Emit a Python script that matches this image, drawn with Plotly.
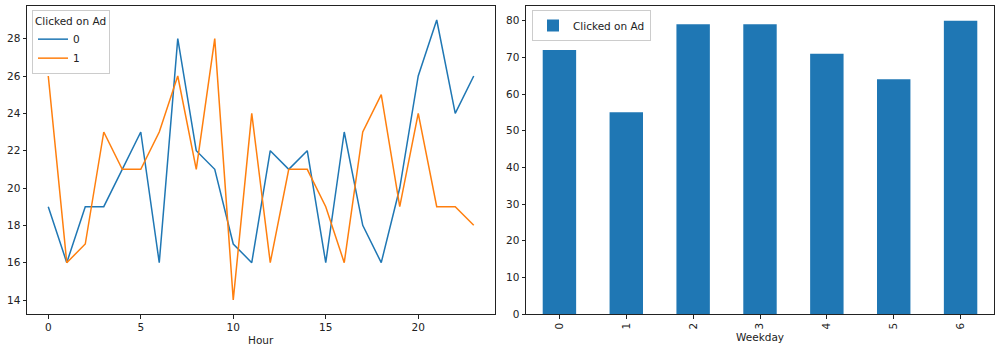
import plotly.graph_objects as go

hours = list(range(24))
clicked_0 = [19, 16, 19, 19, 21, 23, 16, 28, 22, 21, 17, 16, 22, 21, 22, 16, 23, 18, 16, 20, 26, 29, 24, 26]
clicked_1 = [26, 16, 17, 23, 21, 21, 23, 26, 21, 28, 14, 24, 16, 21, 21, 19, 16, 23, 25, 19, 24, 19, 19, 18]

weekdays = [0, 1, 2, 3, 4, 5, 6]
weekday_clicks = [72, 55, 79, 79, 71, 64, 80]

FONT = "DejaVu Sans"
BLUE = "#1f77b4"
ORANGE = "#ff7f0e"
H_EFF = 346.0  # effective rendered paper height

def fy(px):
    return 1 - px / H_EFF

fig = go.Figure()
fig.add_trace(go.Scatter(x=hours, y=clicked_0, mode="lines", name="0",
                         line=dict(color=BLUE, width=1.5), xaxis="x", yaxis="y", legend="legend"))
fig.add_trace(go.Scatter(x=hours, y=clicked_1, mode="lines", name="1",
                         line=dict(color=ORANGE, width=1.5), xaxis="x", yaxis="y", legend="legend"))
fig.add_trace(go.Bar(x=weekdays, y=weekday_clicks, name="Clicked on Ad", width=0.5,
                     marker=dict(color=BLUE, line=dict(width=0)), xaxis="x2", yaxis="y2", legend="legend2"))

axis_common = dict(showgrid=False, zeroline=False, showline=True, mirror=True,
                   linecolor="#222", linewidth=1, ticks="outside", ticklen=3.5,
                   tickcolor="#222", tickwidth=1,
                   tickfont=dict(family=FONT, size=10.5, color="#222"))

ydom = [fy(314), fy(6)]

fig.update_layout(
    width=1000, height=352,
    margin=dict(l=0, r=0, t=0, b=0),
    paper_bgcolor="white", plot_bgcolor="white",
    font=dict(family=FONT, size=10, color="#222"),
    xaxis=dict(domain=[0.027, 0.495], range=[-1.15, 24.15], tickvals=[0, 5, 10, 15, 20],
               anchor="y", **axis_common),
    yaxis=dict(domain=ydom, range=[13.25, 29.75], tickvals=[14, 16, 18, 20, 22, 24, 26, 28],
               anchor="x", **axis_common),
    xaxis2=dict(domain=[0.526, 0.994], range=[-0.5, 6.5], tickvals=weekdays,
                ticktext=[str(w) for w in weekdays], tickangle=-90, anchor="y2", **axis_common),
    yaxis2=dict(domain=ydom, range=[0, 84], tickvals=[0, 10, 20, 30, 40, 50, 60, 70, 80],
                anchor="x2", **axis_common),
    legend=dict(x=0.032, y=fy(10), xanchor="left", yanchor="top",
                title=dict(text="Clicked on Ad", font=dict(family=FONT, size=10.5, color="#222")),
                bgcolor="rgba(255,255,255,0.8)", bordercolor="#ccc", borderwidth=1,
                font=dict(family=FONT, size=10.5, color="#222"), tracegroupgap=0, itemwidth=30),
    legend2=dict(x=0.532, y=fy(10), xanchor="left", yanchor="top",
                 bgcolor="rgba(255,255,255,0.8)", bordercolor="#ccc", borderwidth=1,
                 font=dict(family=FONT, size=10.5, color="#222"), itemwidth=30),
    annotations=[
        dict(text="Hour", x=(27 + 495) / 2 / 1000, y=fy(340), xref="paper", yref="paper",
             showarrow=False, font=dict(family=FONT, size=10.5, color="#222"), xanchor="center", yanchor="middle"),
        dict(text="Weekday", x=(526 + 994) / 2 / 1000, y=fy(337), xref="paper", yref="paper",
             showarrow=False, font=dict(family=FONT, size=10.5, color="#222"), xanchor="center", yanchor="middle"),
    ],
)

fig.write_html("out.html")
